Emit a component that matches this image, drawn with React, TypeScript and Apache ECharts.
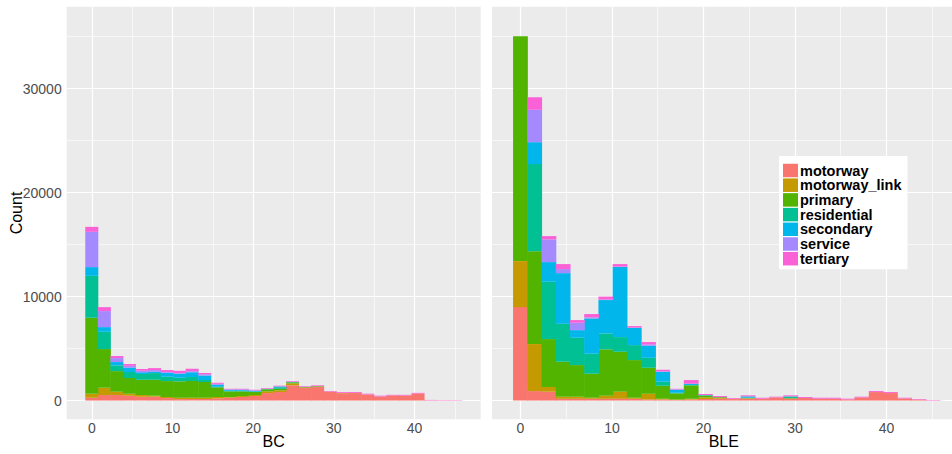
import React, { useEffect, useRef } from "react";
import * as echarts from "echarts";

// Road classes, stacked bottom-to-top in this order, with ggplot-style hue colours
const roadTypes = ["motorway", "motorway_link", "primary", "residential", "secondary", "service", "tertiary"];
const roadColors = ["#F8766D", "#C49A00", "#53B400", "#00C094", "#00B6EB", "#A58AFF", "#FB61D7"];

// 30 histogram bins shared by both facets
const binWidth = 1.555;
const binCenters = Array.from({ length: 30 }, (_, i) => Math.round(i * binWidth * 1000) / 1000);

// BC facet: counts per bin
const bcMotorway = [270, 530, 530, 460, 370, 370, 240, 140, 140, 140, 210, 270, 340, 430, 720, 820, 1460, 1200, 1300, 850, 700, 720, 570, 380, 490, 490, 680, 20, 15, 10];
const bcMotorwayLink = [380, 700, 320, 190, 160, 90, 100, 130, 130, 130, 130, 70, 90, 100, 160, 160, 190, 70, 60, 10, 30, 20, 10, 10, 0, 0, 0, 0, 0, 0];
const bcPrimary = [7310, 3720, 1980, 1510, 1470, 1540, 1530, 1570, 1600, 1510, 930, 540, 450, 290, 200, 150, 100, 20, 20, 0, 0, 0, 0, 0, 0, 0, 0, 0, 0, 0];
const bcResidential = [4030, 1660, 550, 580, 550, 640, 420, 350, 390, 190, 60, 60, 60, 60, 20, 150, 20, 10, 10, 0, 0, 0, 0, 0, 0, 0, 0, 0, 0, 0];
const bcSecondary = [840, 450, 320, 410, 160, 130, 380, 390, 450, 450, 190, 100, 70, 60, 20, 70, 20, 10, 10, 0, 0, 0, 0, 0, 0, 0, 0, 0, 0, 0];
const bcService = [3390, 1540, 380, 200, 150, 160, 70, 60, 100, 100, 90, 40, 70, 40, 20, 20, 20, 10, 10, 0, 0, 0, 0, 0, 0, 0, 0, 0, 0, 0];
const bcTertiary = [480, 380, 200, 160, 170, 190, 190, 220, 250, 120, 100, 50, 50, 60, 60, 60, 60, 60, 60, 60, 80, 80, 80, 80, 60, 60, 60, 40, 30, 30];

// BLE facet: counts per bin
const bleMotorway = [8985, 910, 850, 170, 170, 170, 170, 170, 170, 100, 100, 50, 100, 145, 180, 140, 180, 180, 300, 180, 240, 180, 180, 110, 300, 815, 720, 200, 90, 10];
const bleMotorwayLink = [4420, 4520, 450, 200, 200, 100, 295, 680, 100, 550, 70, 50, 70, 160, 70, 30, 30, 0, 0, 20, 0, 0, 0, 0, 0, 0, 0, 0, 0, 0];
const blePrimary = [21620, 8935, 4610, 3360, 3040, 2310, 4455, 3840, 3620, 2500, 1250, 590, 1290, 170, 70, 0, 50, 0, 0, 50, 0, 0, 0, 0, 0, 0, 0, 0, 0, 0];
const bleResidential = [0, 8365, 5510, 3650, 2630, 1920, 1535, 1410, 1440, 960, 390, 60, 40, 30, 0, 0, 20, 0, 0, 120, 0, 0, 0, 0, 0, 0, 0, 0, 0, 0];
const bleSecondary = [0, 2110, 1890, 4870, 730, 3395, 3205, 6730, 1665, 1160, 960, 290, 120, 30, 10, 0, 120, 0, 0, 30, 0, 0, 0, 0, 0, 0, 0, 0, 0, 0];
const bleService = [0, 3110, 2180, 390, 710, 100, 50, 50, 20, 130, 30, 30, 0, 0, 0, 0, 0, 0, 0, 0, 0, 0, 0, 0, 0, 0, 0, 0, 0, 0];
const bleTertiary = [0, 1210, 320, 480, 255, 320, 285, 240, 145, 220, 160, 60, 350, 95, 100, 70, 100, 90, 70, 100, 95, 90, 90, 70, 70, 95, 95, 70, 55, 40];

// Axis breaks
const xMajor = [0, 10, 20, 30, 40];
const xMinor = [5, 15, 25, 35, 45];
const yMajor = [0, 10000, 20000, 30000];
const yMinor = [5000, 15000, 25000, 35000];

const panels = [
  { key: "bc", title: "BC", counts: [bcMotorway, bcMotorwayLink, bcPrimary, bcResidential, bcSecondary, bcService, bcTertiary] },
  { key: "ble", title: "BLE", counts: [bleMotorway, bleMotorwayLink, blePrimary, bleResidential, bleSecondary, bleService, bleTertiary] },
];

const FONT = "'Liberation Sans', Arial, Helvetica, sans-serif";
const X_RANGE = [-3.11, 48.2];
const Y_RANGE = [-1803, 37865];

export default function App() {
  const ref = useRef<HTMLDivElement>(null);

  useEffect(() => {
    if (!ref.current) return;
    const chart = echarts.init(ref.current, undefined, { renderer: "svg" });

    const grids = [
      { left: 66.7, top: 6.7, width: 414, height: 412.6 },
      { left: 492, top: 6.7, width: 469.5, height: 412.6 },
    ].map((g) => ({
      ...g,
      show: true,
      backgroundColor: "#EBEBEB",
      borderWidth: 0,
      containLabel: false,
      outerBoundsMode: "none",
    }));

    const plain = (v: number) => String(v);

    const xAxes = panels.map((p, i) => ({
      type: "value",
      gridIndex: i,
      min: X_RANGE[0],
      max: X_RANGE[1],
      name: p.title,
      nameLocation: "middle",
      nameGap: 14,
      nameMoveOverlap: false,
      nameTextStyle: { fontSize: 16, color: "#000", fontFamily: FONT, verticalAlign: "top", padding: i === 1 ? [0, 6, 0, 0] : 0 },
      axisLine: { show: false },
      axisTick: { show: true, length: 4, lineStyle: { color: "#333", width: 1 }, customValues: xMajor },
      axisLabel: { show: true, margin: 2, fontSize: 14, color: "#4D4D4D", fontFamily: FONT, customValues: xMajor, formatter: plain },
      splitLine: { show: false },
    }));

    const yAxes = panels.map((p, i) => ({
      type: "value",
      gridIndex: i,
      min: Y_RANGE[0],
      max: Y_RANGE[1],
      name: i === 0 ? "Count" : "",
      nameLocation: "middle",
      nameRotate: 90,
      nameGap: 42,
      nameMoveOverlap: false,
      nameTextStyle: { fontSize: 16, color: "#000", fontFamily: FONT },
      axisLine: { show: false },
      axisTick: { show: true, length: 4, lineStyle: { color: "#333", width: 1 }, customValues: yMajor },
      axisLabel: { show: i === 0, margin: 5, fontSize: 14, color: "#4D4D4D", fontFamily: FONT, customValues: yMajor, formatter: plain },
      splitLine: { show: false },
    }));

    const gridLine = (w: number) => ({ color: "#FFFFFF", width: w, type: "solid" });

    const series: any[] = [];
    panels.forEach((p, gi) => {
      // panel grid lines, drawn above the panel background and under the bars
      series.push({
        type: "line",
        name: "grid-" + p.key,
        xAxisIndex: gi,
        yAxisIndex: gi,
        data: [],
        silent: true,
        z: 1,
        markLine: {
          silent: true,
          z: 1,
          symbol: ["none", "none"],
          label: { show: false },
          emphasis: { disabled: true },
          data: [
            ...xMinor.map((v) => ({ xAxis: v, lineStyle: gridLine(0.6) })),
            ...yMinor.map((v) => ({ yAxis: v, lineStyle: gridLine(0.6) })),
            ...xMajor.map((v) => ({ xAxis: v, lineStyle: gridLine(1.2) })),
            ...yMajor.map((v) => ({ yAxis: v, lineStyle: gridLine(1.2) })),
          ],
        },
      });
      // stacked histogram layers; count is the first column so that the stack runs along y
      roadTypes.forEach((t, j) => {
        series.push({
          type: "bar",
          name: t,
          xAxisIndex: gi,
          yAxisIndex: gi,
          stack: p.key,
          barWidth: "104%",
          z: 2,
          itemStyle: { color: roadColors[j] },
          emphasis: { disabled: true },
          encode: { x: 1, y: 0 },
          data: binCenters.map((x, k) => [p.counts[j][k], x]),
        });
      });
    });

    chart.setOption({
      animation: false,
      textStyle: { fontFamily: FONT },
      grid: grids,
      xAxis: xAxes,
      yAxis: yAxes,
      legend: {
        data: roadTypes.map((name) => ({ name, icon: "rect" })),
        orient: "vertical",
        left: 779,
        top: 156,
        backgroundColor: "#FFFFFF",
        padding: [7, 6, 3, 4],
        itemWidth: 15,
        itemHeight: 13.5,
        itemGap: -0.3,
        selectedMode: false,
        textStyle: { fontSize: 14.5, fontWeight: "bold", color: "#000", fontFamily: FONT, lineHeight: 13.5, padding: [0, 0, 0, -3] },
      },
      series,
    });

    return () => chart.dispose();
  }, []);

  return <div ref={ref} style={{ position: "absolute", left: 0, top: 0, width: 952, height: 454 }} />;
}
